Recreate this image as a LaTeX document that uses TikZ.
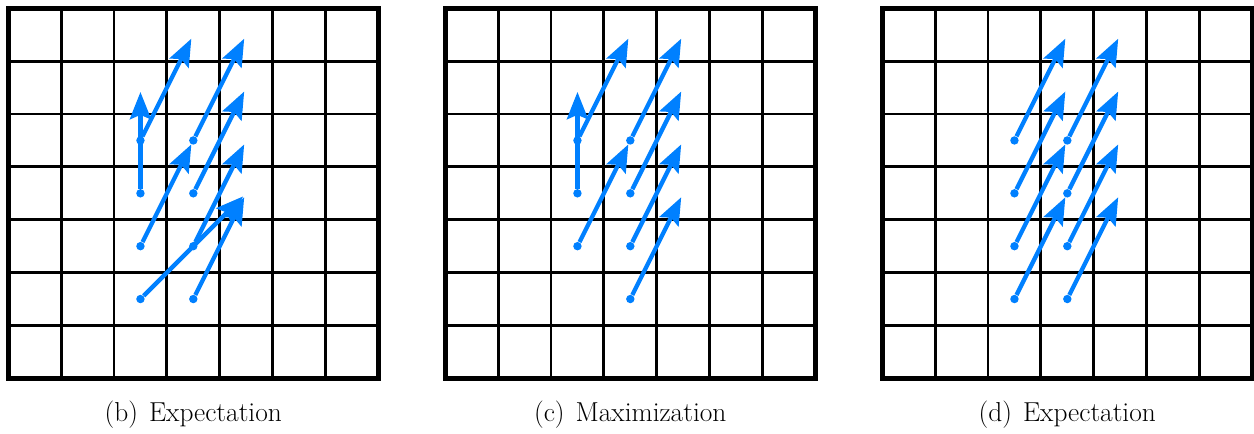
\documentclass[tikz,border=0pt]{standalone}
\usetikzlibrary{arrows.meta}
\definecolor{vblue}{RGB}{0,128,255}
\begin{document}
\begin{tikzpicture}[x=0.02cm,y=-0.02cm,
  gridln/.style={line width=1.6pt,black},
  gridframe/.style={line width=2.7pt,black},
  bluedot/.style={circle,fill=vblue,inner sep=0pt,minimum size=4.8pt},
  bluearr/.style={vblue,line width=2.45pt,shorten >=2.5pt,
    -{Stealth[length=15.5pt,width=12pt,inset=2.5pt]}},
  captxt/.style={anchor=base,font=\fontsize{15.6}{18}\selectfont,inner sep=0pt}]
\useasboundingbox (0,0) rectangle (1254,433);
\foreach \g/\lab in {0/{(b)\hspace{0.4em}Expectation},1/{(c)\hspace{0.4em}Maximization},2/{(d)\hspace{0.4em}Expectation}} {
  \pgfmathsetmacro\X{8.3+437*\g}
  \foreach \k in {1,...,6} {
    \draw[gridln] ({\X+\k*52.86},8.3) -- ({\X+\k*52.86},378.3);
    \draw[gridln] (\X,{8.3+\k*52.86}) -- ({\X+370},{8.3+\k*52.86});
  }
  \draw[gridframe] (\X,8.3) rectangle ({\X+370},378.3);
  \foreach \c in {0,...,6} {
    \foreach \r in {0,...,6} {
      \coordinate (g\g-\c-\r) at ({\X+(\c+0.5)*52.86},{8.3+(\r+0.5)*52.86});
    }
  }
  \node[captxt] (cap\g) at ({\X+185},421) {\lab};
}
% dots
\foreach \g/\c/\r in {0/2/2,0/3/2,0/2/3,0/3/3,0/2/4,0/3/4,0/2/5,0/3/5,
                       1/2/2,1/3/2,1/2/3,1/3/3,1/2/4,1/3/4,1/3/5,
                       2/2/2,2/3/2,2/2/3,2/3/3,2/2/4,2/3/4,2/2/5,2/3/5} {
  \node[bluedot] (d\g-\c-\r) at (g\g-\c-\r) {};
}
% arrows
\foreach \g/\a/\b/\c/\d in {
  0/2/2/3/0, 0/3/2/4/0, 0/2/3/2/1, 0/3/3/4/1, 0/2/4/3/2, 0/3/4/4/2, 0/2/5/4/3, 0/3/5/4/3,
  1/2/2/3/0, 1/3/2/4/0, 1/2/3/2/1, 1/3/3/4/1, 1/2/4/3/2, 1/3/4/4/2, 1/3/5/4/3,
  2/2/2/3/0, 2/3/2/4/0, 2/2/3/3/1, 2/3/3/4/1, 2/2/4/3/2, 2/3/4/4/2, 2/2/5/3/3, 2/3/5/4/3} {
  \draw[bluearr] (d\g-\a-\b) -- (g\g-\c-\d);
}
\end{tikzpicture}
\end{document}
